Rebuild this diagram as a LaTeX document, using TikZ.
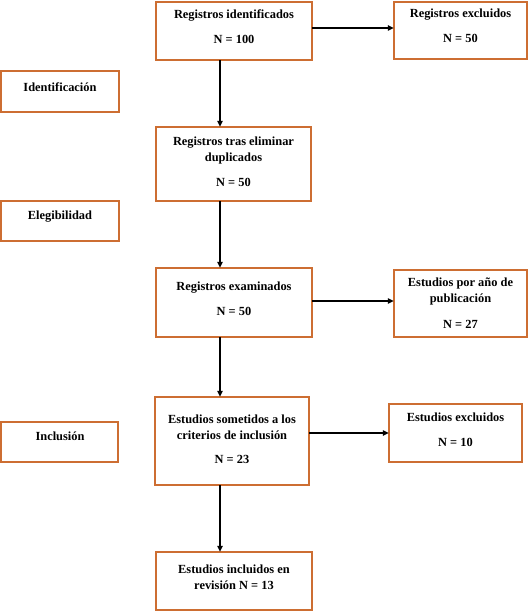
\documentclass[tikz,border=0pt]{standalone}
\usepackage{fontspec}
\setmainfont{Liberation Serif}
\usetikzlibrary{arrows.meta}
\definecolor{boxor}{RGB}{205,110,50}
\tikzset{
  box/.style={draw=boxor, line width=1.8pt, fill=white, inner sep=0pt},
  txt/.style={font=\fontsize{12.4}{16}\selectfont\bfseries, align=center, inner sep=0pt},
  arr/.style={draw=black, line width=1.4pt, -{Triangle[length=6pt,width=5.5pt]}}
}
\newcommand{\mkbox}[5]{% name, x1, y1, x2, y2
  \path[box] (#2,#3) rectangle (#4,#5);
  \node[inner sep=0pt, minimum width=#4pt-#2pt, minimum height=#5pt-#3pt] (#1) at ({(#2+#4)/2},{(#3+#5)/2}) {};}
\begin{document}
\begin{tikzpicture}[x=1pt,y=-1pt]
\useasboundingbox (0,0) rectangle (529,612);
\mkbox{b1}{156}{2}{312}{60}
\mkbox{ex1}{394}{2}{527}{59}
\mkbox{id}{1}{71}{119}{112}
\mkbox{b2}{156}{127}{311}{201}
\mkbox{el}{1}{201}{119}{241}
\mkbox{b3}{156}{268}{312}{337}
\mkbox{ey}{394}{270}{527}{337}
\mkbox{b4}{155}{397}{309}{485}
\mkbox{inc}{1}{422}{118}{462}
\mkbox{ee}{389}{404}{522}{462}
\mkbox{b5}{156}{552}{312}{610}

\node[txt] at (234,26.5) {Registros identificados\\[9pt]N = 100};
\node[txt] at (460.5,26) {Registros excluidos\\[9pt]N = 50};
\node[txt] at (60,87) {Identificación};
\node[txt] at (233.5,161.5) {Registros tras eliminar\\duplicados\\[9pt]N = 50};
\node[txt] at (60,217) {Elegibilidad};
\node[txt] at (234,298.5) {Registros examinados\\[9pt]N = 50};
\node[txt] at (460.5,303.5) {Estudios por año de\\publicación\\[10pt]N = 27};
\node[txt] at (232,439.5) {Estudios sometidos a los\\criterios de inclusión\\[8pt]N = 23};
\node[txt] at (60,436) {Inclusión};
\node[txt] at (455.5,429.5) {Estudios excluidos\\[9pt]N = 10};
\node[txt] at (234,577.5) {Estudios incluidos en\\revisión N = 13};

\coordinate (ax) at (220,0);
\draw[arr] (b1.south -| ax) -- (b2.north -| ax);
\draw[arr] (b2.south -| ax) -- (b3.north -| ax);
\draw[arr] (b3.south -| ax) -- (b4.north -| ax);
\draw[arr] (b4.south -| ax) -- (b5.north -| ax);
\draw[arr] ([yshift=3pt]b1.east) -- ([yshift=3pt]b1.east -| ex1.west);
\draw[arr] ([yshift=1.5pt]b3.east) -- ([yshift=1.5pt]b3.east -| ey.west);
\draw[arr] (b4.east |- ee.west) -- (ee.west);
\end{tikzpicture}
\end{document}
